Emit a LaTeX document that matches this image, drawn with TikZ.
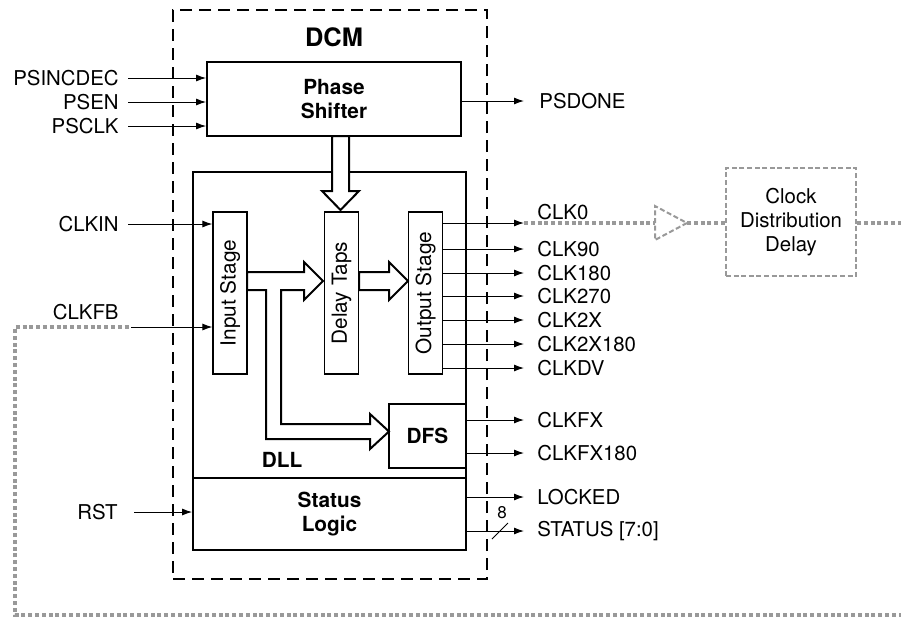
\documentclass[tikz,border=0pt]{standalone}
\usepackage{fontspec}
\setmainfont{TeX Gyre Heros}
\usepackage{graphicx}
\usetikzlibrary{arrows.meta}

\begin{document}
\begin{tikzpicture}[x=0.5pt, y=-0.5pt,
  box/.style={draw, line width=0.9pt, align=center, inner sep=0pt,
              font=\fontsize{10.4}{12}\selectfont\bfseries},
  tall/.style={draw, line width=0.6pt, minimum width=17pt, minimum height=81pt,
               inner sep=0pt, font=\fontsize{10.4}{12}\selectfont},
  lbl/.style={inner sep=0pt, font=\fontsize{10.2}{12}\selectfont},
  inlbl/.style={lbl, anchor=east, inner xsep=4.5pt},
  outlbl/.style={lbl, anchor=west, inner xsep=6.5pt},
  sig/.style={-{Latex[length=5pt,width=3.5pt]}, line width=0.5pt},
  hollow/.style={draw, line width=1pt, fill=white, line join=miter},
  gline/.style={draw=black!40, line width=1.6pt, dash pattern=on 2pt off 1.4pt},
  gthin/.style={draw=black!40, line width=1pt, dash pattern=on 2.5pt off 1.3pt}]
  \useasboundingbox (0,0) rectangle (901,618);
  % DCM frame
  \node[draw, line width=1pt, dash pattern=on 6pt off 3.5pt,
        minimum width=157pt, minimum height=284.5pt] (dcm) at (330,294.5) {};
  \node[font=\fontsize{12.7}{14}\selectfont\bfseries] (dcmlbl) at (334,37) {DCM};
  % blocks
  \node[box, minimum width=127pt, minimum height=37pt] (phase) at (334,99) {Phase\\Shifter};
  \node[box, minimum width=136.5pt, minimum height=153pt] (dll) at (329.5,325) {};
  \node[box, minimum width=136.5pt, minimum height=36pt] (status) at (329.5,514) {Status\\Logic};
  \node[tall] (instage) at (230,293) {\rotatebox{90}{Input Stage}};
  \node[tall] (taps) at (341.5,293) {\rotatebox{90}{Delay Taps}};
  \node[tall] (outstage) at (425.5,293) {\rotatebox{90}{Output Stage}};
  \node[box, minimum width=38.5pt, minimum height=32pt] (dfs) at (427.5,436) {DFS};
  \node[font=\fontsize{10.4}{12}\selectfont\bfseries, inner sep=0pt] (dlllbl) at (282,460) {DLL};
  \node[gthin, minimum width=65pt, minimum height=54pt, align=center,
        font=\fontsize{10.2}{12}\selectfont] (cdd) at (791,222) {Clock\\Distribution\\Delay};

  % wide data paths
  \path[hollow] (332,136) -- (332,191) -- (322,191) -- (340.5,210) -- (359,191)
    -- (349,191) -- (349,136) -- cycle;
  \path[hollow] (247,272) -- (304,272) -- (304,262) -- (323,281) -- (304,300)
    -- (304,290) -- (281,290) -- (281,424) -- (370,424) -- (370,414) -- (389,431.5)
    -- (370,449) -- (370,439) -- (266,439) -- (266,290) -- (247,290) -- cycle;
  \path[hollow] (359,272) -- (389,272) -- (389,262) -- (408,281) -- (389,300)
    -- (389,290) -- (359,290) -- cycle;

  % inputs
  \node[inlbl] (psinc) at (128,78) {PSINCDEC};
  \node[inlbl] (psen) at (128,102) {PSEN};
  \node[inlbl] (psclk) at (128,126) {PSCLK};
  \node[inlbl] (clkin) at (128,224) {CLKIN};
  \node[inlbl, inner xsep=8pt] (rst) at (134,512) {RST};
  \draw[sig] (psinc.east) -- (psinc.east -| phase.west);
  \draw[sig] (psen.east) -- (psen.east -| phase.west);
  \draw[sig] (psclk.east) -- (psclk.east -| phase.west);
  \draw[sig] (clkin.east) -- (clkin.east -| instage.west);
  \draw[sig] (rst.east) -- (rst.east -| status.west);

  % outputs
  \node[outlbl, inner xsep=7.5pt] (psdone) at (524,101) {PSDONE};
  \coordinate (clk0) at (524,223);
  \node[outlbl, anchor=base west] (clk0lbl) at (524,219) {CLK0};
  \node[outlbl] (clk90) at (524,249) {CLK90};
  \node[outlbl] (clk180) at (524,273) {CLK180};
  \node[outlbl] (clk270) at (524,296) {CLK270};
  \node[outlbl] (clk2x) at (524,320) {CLK2X};
  \node[outlbl] (clk2x180) at (524,344) {CLK2X180};
  \node[outlbl] (clkdv) at (524,368) {CLKDV};
  \node[outlbl] (clkfx) at (524,420) {CLKFX};
  \node[outlbl] (clkfx180) at (524,453) {CLKFX180};
  \node[outlbl] (locked) at (524,497) {LOCKED};
  \node[outlbl] (stat) at (524,531) {STATUS [7:0]};
  \draw[sig] (phase.east |- psdone.west) -- (psdone.west);
  \draw[sig] (outstage.east |- clk0) -- (clk0);
  \draw[sig] (outstage.east |- clk90.west) -- (clk90.west);
  \draw[sig] (outstage.east |- clk180.west) -- (clk180.west);
  \draw[sig] (outstage.east |- clk270.west) -- (clk270.west);
  \draw[sig] (outstage.east |- clk2x.west) -- (clk2x.west);
  \draw[sig] (outstage.east |- clk2x180.west) -- (clk2x180.west);
  \draw[sig] (outstage.east |- clkdv.west) -- (clkdv.west);
  \draw[sig] (dfs.east |- clkfx.west) -- (clkfx.west);
  \draw[sig] (dfs.east |- clkfx180.west) -- (clkfx180.west);
  \draw[sig] (status.east |- locked.west) -- (locked.west);
  \draw[sig] (status.east |- stat.west) -- (stat.west);
  % bus width mark
  \draw[line width=0.5pt] (492,539) -- (508,523);
  \node[font=\fontsize{8.5}{10}\selectfont, inner sep=0pt] (bus) at (502,513) {8};

  % clock feedback through distribution
  \coordinate (buf) at (655,223);
  \coordinate (buftip) at (687,223);
  \draw[gline] (clk0) -- (buf);
  \draw[gthin] (buf) -- (655,206) -- (buftip) -- (655,240) -- cycle;
  \draw[gline] (buftip) -- (buftip -| cdd.west);
  \coordinate (fb) at (131,327);
  \draw[gline] (cdd.east |- buftip) -- (915,223) -- (915,615) -- (15,615) -- (15,327) -- (fb);
  \node[lbl, anchor=base east] (clkfb) at (119,319) {CLKFB};
  \draw[sig] (fb) -- (fb -| instage.west);
\end{tikzpicture}
\end{document}
